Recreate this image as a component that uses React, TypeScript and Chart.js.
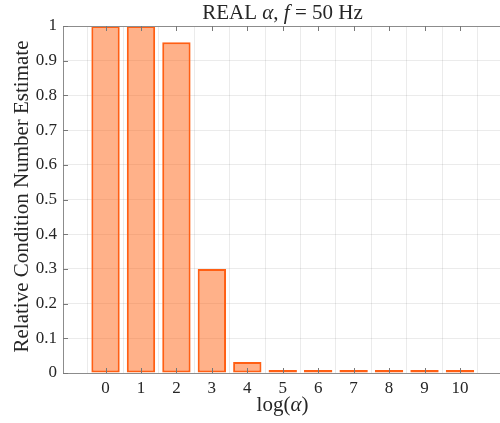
import React, { useEffect, useRef } from "react";
import { Chart, registerables } from "chart.js";

Chart.register(...registerables);

const categories = [0, 1, 2, 3, 4, 5, 6, 7, 8, 9, 10];
const values = [1.0, 1.0, 0.953, 0.3, 0.032, 0.004, 0.0015, 0.001, 0.0008, 0.0006, 0.0005];
const yTicks = [0, 0.1, 0.2, 0.3, 0.4, 0.5, 0.6, 0.7, 0.8, 0.9, 1];

const SERIF = "Liberation Serif";
const AXIS_COLOR = "rgb(140,140,140)";

Chart.defaults.font.family = SERIF;

const decorPlugin = {
  id: "decor",
  afterDraw(chart: any) {
    const { ctx, chartArea } = chart;
    const { left, right, top, bottom } = chartArea;
    const xs = chart.scales.x;
    const ys = chart.scales.y;
    ctx.save();
    ctx.strokeStyle = AXIS_COLOR;
    ctx.lineWidth = 1;
    ctx.beginPath();
    ctx.moveTo(left, top + 0.5);
    ctx.lineTo(right, top + 0.5);
    ctx.stroke();
    ctx.strokeStyle = "rgb(120,120,120)";
    categories.forEach((c) => {
      const px = Math.round(xs.getPixelForValue(c)) + 0.5;
      ctx.beginPath();
      ctx.moveTo(px, bottom);
      ctx.lineTo(px, bottom - 5);
      ctx.moveTo(px, top);
      ctx.lineTo(px, top + 5);
      ctx.stroke();
    });
    yTicks.forEach((v) => {
      const py = Math.round(ys.getPixelForValue(v)) + 0.5;
      ctx.beginPath();
      ctx.moveTo(left, py);
      ctx.lineTo(left + 5, py);
      ctx.stroke();
    });

    const drawSegments = (segs: [string, boolean][], cx: number, cy: number, size: number) => {
      let total = 0;
      const widths = segs.map(([t, it]) => {
        ctx.font = `${it ? "italic " : ""}${size}px ${SERIF}`;
        const w = ctx.measureText(t).width;
        total += w;
        return w;
      });
      let x = cx - total / 2;
      ctx.textBaseline = "middle";
      ctx.textAlign = "left";
      ctx.fillStyle = "#262626";
      segs.forEach(([t, it], i) => {
        ctx.font = `${it ? "italic " : ""}${size}px ${SERIF}`;
        ctx.fillText(t, x, cy);
        x += widths[i];
      });
    };

    const cxTitle = (63 + 502) / 2;
    drawSegments(
      [
        ["REAL ", false],
        ["α", true],
        [", ", false],
        ["f", true],
        [" = 50 Hz", false],
      ],
      cxTitle,
      13,
      21
    );
    drawSegments(
      [
        ["log(", false],
        ["α", true],
        [")", false],
      ],
      cxTitle,
      405,
      21
    );
    ctx.save();
    ctx.translate(22, (top + bottom) / 2 - 3);
    ctx.rotate(-Math.PI / 2);
    drawSegments([["Relative Condition Number Estimate", false]], 0, 0, 21);
    ctx.restore();
    ctx.restore();
  },
};

export default function App() {
  const ref = useRef<HTMLCanvasElement | null>(null);
  useEffect(() => {
    if (!ref.current) return;
    const chart = new Chart(ref.current, {
      type: "bar",
      data: {
        datasets: [
          {
            data: categories.map((c, i) => ({ x: c, y: values[i] })),
            backgroundColor: "rgba(255,100,20,0.5)",
            borderColor: "rgb(255,95,20)",
            borderWidth: 2,
            borderSkipped: false,
            minBarLength: 3,
            barPercentage: 0.8,
            categoryPercentage: 1,
          } as any,
        ],
      },
      options: {
        responsive: false,
        animation: false,
        font: { family: SERIF },
        layout: { padding: { top: 26, right: 0, left: 0, bottom: 0 } },
        plugins: { legend: { display: false }, tooltip: { enabled: false }, title: { display: false } },
        scales: {
          x: {
            type: "linear",
            min: -1.2,
            max: 11.13,
            offset: false,
            afterBuildTicks: (scale: any) => {
              scale.ticks = categories.map((v) => ({ value: v }));
            },
            afterFit: (scale: any) => {
              scale.height = 50;
            },
            grid: { color: "rgba(0,0,0,0.08)", drawTicks: false },
            border: { display: true, color: AXIS_COLOR, width: 1 },
            ticks: {
              padding: 5,
              color: "#262626",
              font: { family: SERIF, size: 17 },
              maxRotation: 0,
              callback: (v: any) => String(v),
            },
          },
          y: {
            min: 0,
            max: 1,
            afterBuildTicks: (scale: any) => {
              scale.ticks = yTicks.map((v) => ({ value: v }));
            },
            afterFit: (scale: any) => {
              scale.width = 63;
            },
            grid: { color: "rgba(0,0,0,0.08)", drawTicks: false },
            border: { display: true, color: AXIS_COLOR, width: 1 },
            ticks: {
              padding: 6,
              color: "#262626",
              font: { family: SERIF, size: 17 },
              callback: (v: any) => String(Math.round(v * 10) / 10),
            },
          },
        },
      },
      plugins: [decorPlugin],
    } as any);
    return () => chart.destroy();
  }, []);
  return (
    <div style={{ position: "absolute", left: 0, top: 0, width: 500, height: 423, background: "#fff" }}>
      <canvas ref={ref} width={500} height={423} style={{ width: 500, height: 423 }} />
    </div>
  );
}
